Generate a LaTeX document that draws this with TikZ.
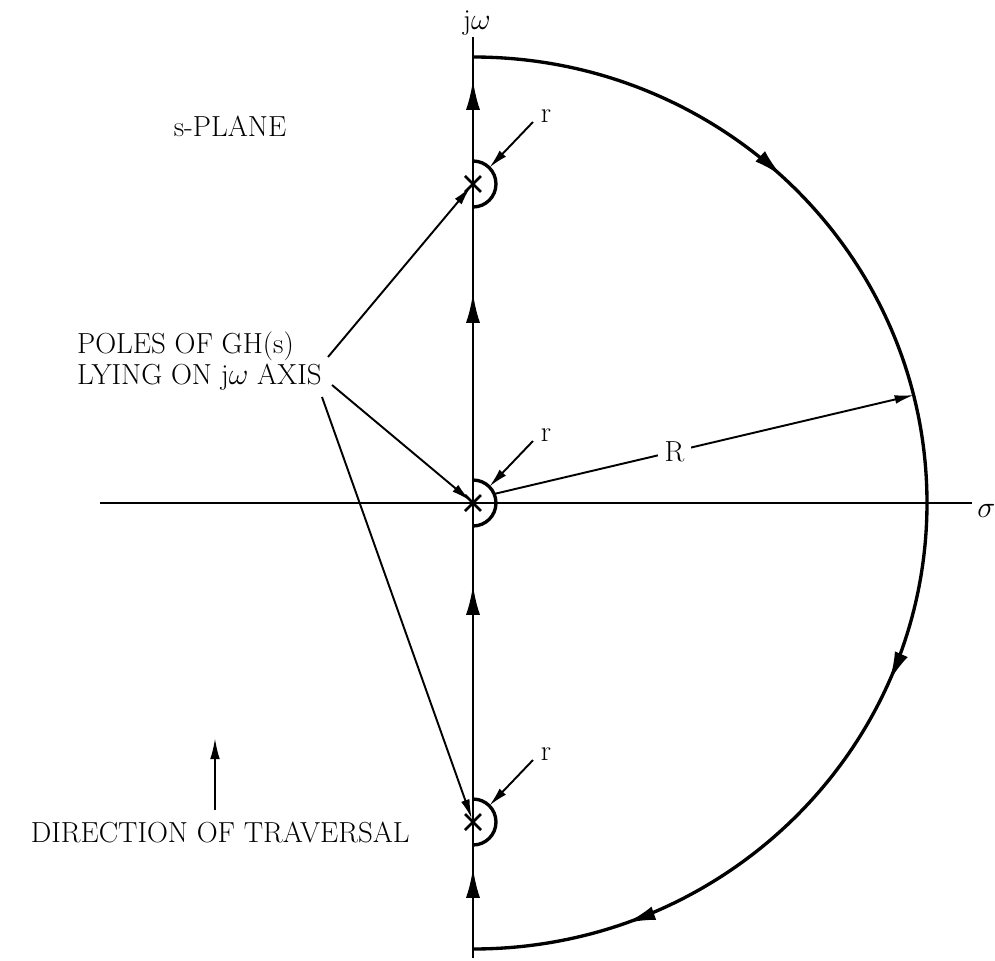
\documentclass[tikz,border=0pt]{standalone}
\usepackage{amsmath}
\usepackage{tikz}
\usetikzlibrary{arrows.meta, decorations.markings}
\tikzset{
  axisline/.style={line width=1.5pt, color=black},
  flowtip/.style={-{Latex[length=17pt, width=8pt]}, line width=1.5pt},
  pointer/.style={-{Latex[length=11pt, width=5pt]}, line width=1.1pt},
  dirtip/.style={-{Latex[length=12pt, width=5.5pt]}, line width=1.2pt},
  contour/.style={line width=1.9pt},
  polemark/.style={line width=1.6pt},
  lbl/.style={font=\fontsize{16.5}{18}\selectfont, inner sep=0pt}
}

\begin{document}
\begin{tikzpicture}[x=0.02cm, y=0.02cm]
  \useasboundingbox (-473,-458) rectangle (522,503);
  \coordinate (origin) at (0,0);
  \draw[axisline] (-373,0) -- (499,0);
  \draw[axisline] (0,-455) -- (0,466);
  \node[lbl] (jw) at (4,480) {j$\omega$};
  \node[lbl, anchor=west] (sigma) at (504,-8) {$\sigma$};
  \foreach \y in {423,210,-82,-365}
    \draw[flowtip] (0,\y-30) -- (0,\y);
  \draw[contour, postaction={decorate}, decoration={markings,
      mark=at position 0.24 with {\arrow{Latex[length=17pt, width=8pt]}},
      mark=at position 0.63 with {\arrow{Latex[length=17pt, width=8pt]}},
      mark=at position 0.89 with {\arrow{Latex[length=17pt, width=8pt]}}}]
    (0,446) arc[start angle=90, end angle=-90, x radius=454, y radius=446];
  \foreach \n/\y in {top/319, mid/0, bot/-319} {
    \coordinate (pole\n) at (0,\y);
    \draw[polemark] (-8,\y-8) -- (8,\y+8) (-8,\y+8) -- (8,\y-8);
    \draw[contour] (0,\y+23) arc[start angle=90, end angle=-90, radius=23];
    \draw[pointer] (60,\y+62) -- (16.3,\y+16.3);
    \node[lbl] (r\n) at (73,\y+68) {r};
  }
  \draw[pointer] (21,9) -- node[lbl, fill=white, inner sep=4pt, pos=0.43] (rlabel) {R} (441,108);
  \node[lbl] (splane) at (-243,377) {s-PLANE};
  \node[lbl, align=left, anchor=east] (poles) at (-151,142) {POLES OF GH(s)\\LYING ON j$\omega$ AXIS};
  \draw[pointer, shorten >=2pt] ([shift={(6,4)}]poles.east) -- (poletop);
  \draw[pointer, shorten >=2pt] ([shift={(10,-24)}]poles.east) -- (polemid);
  \draw[pointer, shorten >=2pt] ([shift={(0,-36)}]poles.east) -- (polebot);
  \node[lbl, anchor=east] (dirlabel) at (-63,-329) {DIRECTION OF TRAVERSAL};
  \coordinate (dirfoot) at (-258,-307);
  \draw[dirtip] (dirfoot) -- ++(0,72);
\end{tikzpicture}
\end{document}
